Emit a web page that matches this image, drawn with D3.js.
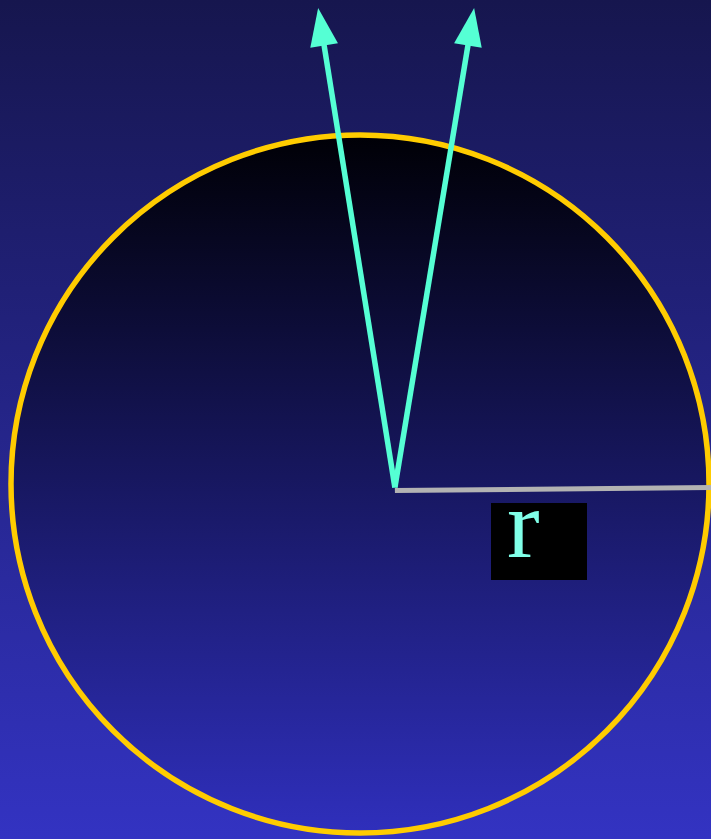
<!DOCTYPE html>
<html>
<head>
<meta charset="utf-8">
<script src="https://cdn.jsdelivr.net/npm/d3@7"></script>
<style>
  html, body { margin: 0; padding: 0; background: #16164f; }
  svg { display: block; }
</style>
</head>
<body>
<script>
// diagram values in unit coordinates (circle of radius 1 at origin)
var circleCenter = [0, 0],
    circleRadius = 1;
var arrowOrigin = [0.1, -0.01];
var arrowTips = [[-0.12, 1.364], [0.327, 1.364]];
var radiusEnd = [1.006, -0.01];
var labels = ["r"];

var width = 711, height = 839;

var x = d3.scaleLinear().domain([-1, 1]).range([11, 709]);
var y = d3.scaleLinear().domain([-1, 1]).range([833, 135]);

var svg = d3.select("body").append("svg")
    .attr("width", width)
    .attr("height", height);

var defs = svg.append("defs");

var bg = defs.append("linearGradient")
    .attr("id", "bg").attr("x1", 0).attr("y1", 0).attr("x2", 0).attr("y2", 1);
bg.append("stop").attr("offset", "0%").attr("stop-color", "#16164e");
bg.append("stop").attr("offset", "100%").attr("stop-color", "#3333c2");

var disc = defs.append("linearGradient")
    .attr("id", "disc").attr("x1", 0).attr("y1", 0).attr("x2", 0).attr("y2", 1);
disc.append("stop").attr("offset", "0%").attr("stop-color", "#000006");
disc.append("stop").attr("offset", "100%").attr("stop-color", "#2f2fbc");

svg.append("rect")
    .attr("width", width).attr("height", height)
    .style("fill", "url(#bg)");

svg.append("circle")
    .attr("cx", x(circleCenter[0]))
    .attr("cy", y(circleCenter[1]))
    .attr("r", x(circleRadius) - x(0))
    .style("fill", "url(#disc)")
    .style("stroke", "#ffcc00")
    .style("stroke-width", 5.5);

// radius line
svg.append("line")
    .attr("x1", x(arrowOrigin[0])).attr("y1", y(arrowOrigin[1]) + 3)
    .attr("x2", x(radiusEnd[0])).attr("y2", y(radiusEnd[1]))
    .style("stroke", "#b3b3b3")
    .style("stroke-width", 5);

// arrows
var headLen = 38, headHalf = 14;
var ox = x(arrowOrigin[0]), oy = y(arrowOrigin[1]);

var arrows = svg.selectAll("g.arrow")
    .data(arrowTips)
  .enter().append("g")
    .attr("class", "arrow");

arrows.each(function(d) {
    var g = d3.select(this);
    var tx = x(d[0]), ty = y(d[1]);
    var dx = tx - ox, dy = ty - oy,
        len = Math.sqrt(dx*dx + dy*dy),
        ux = dx/len, uy = dy/len;
    var bx = tx - ux*headLen, by = ty - uy*headLen;

    g.append("line")
        .attr("x1", ox).attr("y1", oy)
        .attr("x2", bx + ux*2).attr("y2", by + uy*2)
        .style("stroke", "#55ffd4")
        .style("stroke-width", 5.5);

    g.append("polygon")
        .attr("points", [
            [tx, ty],
            [bx - uy*headHalf, by + ux*headHalf],
            [bx + uy*headHalf, by - ux*headHalf]
        ].map(function(p) { return p.join(","); }).join(" "))
        .style("fill", "#55ffd4");
});

// label
var lab = svg.append("g").attr("class", "label");
lab.append("rect")
    .attr("x", 491).attr("y", 503)
    .attr("width", 96).attr("height", 77)
    .style("fill", "#000");
lab.append("text")
    .attr("x", 507).attr("y", 557)
    .style("font-family", "'Liberation Serif', 'DejaVu Serif', serif")
    .style("font-size", "98px")
    .style("fill", "#80ffe8")
    .text(labels[0]);
</script>
</body>
</html>
